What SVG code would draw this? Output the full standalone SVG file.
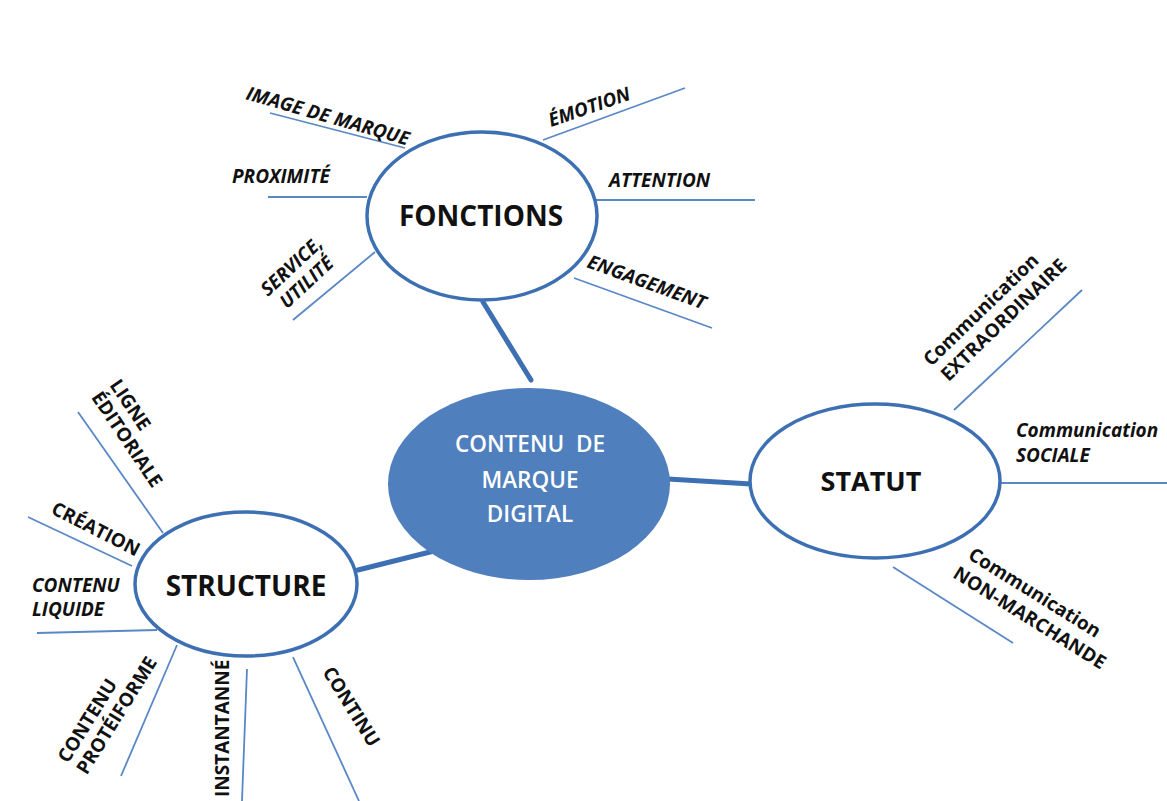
<svg xmlns="http://www.w3.org/2000/svg" width="1167" height="801" viewBox="0 0 1167 801">
<style>
.bg{fill:#ffffff}
.ring{fill:#ffffff;stroke:#3d70b2;stroke-width:3.5}
.core{fill:#4f7fbd;stroke:none}
.thick{stroke:#3d70b2;stroke-width:5;fill:none;stroke-linecap:round}
.thin{stroke:#5a88c6;stroke-width:1.8;fill:none}
.main{font-family:"Open Sans","Liberation Sans",sans-serif;font-weight:700;fill:#111111;text-anchor:middle}
.coretxt{font-family:"Open Sans","Liberation Sans",sans-serif;font-weight:600;fill:#ffffff;font-size:22.5px;text-anchor:middle}
.lbl{font-family:"Open Sans","Liberation Sans",sans-serif;font-weight:700;font-style:italic;fill:#111111;font-size:19px}
.lbln{font-family:"Open Sans","Liberation Sans",sans-serif;font-weight:700;fill:#111111;font-size:19px}
</style>
<rect class="bg" x="0" y="0" width="1167" height="801"/>
<g id="connectors">
<line class="thick" x1="483" y1="302" x2="531" y2="380"/>
<line class="thick" x1="668" y1="479" x2="751" y2="484"/>
<line class="thick" x1="358" y1="570" x2="434" y2="551"/>
<line class="thin" x1="270" y1="113" x2="405" y2="148"/>
<line class="thin" x1="268" y1="197" x2="367" y2="197"/>
<line class="thin" x1="293" y1="320" x2="375" y2="252"/>
<line class="thin" x1="543" y1="140" x2="685" y2="88"/>
<line class="thin" x1="596" y1="200" x2="755" y2="200"/>
<line class="thin" x1="574" y1="278" x2="712" y2="328"/>
<line class="thin" x1="954" y1="410" x2="1082" y2="290"/>
<line class="thin" x1="1000" y1="483" x2="1167" y2="483"/>
<line class="thin" x1="893" y1="567" x2="1013" y2="643"/>
<line class="thin" x1="78" y1="412" x2="163" y2="533"/>
<line class="thin" x1="28" y1="517" x2="132" y2="566"/>
<line class="thin" x1="37" y1="633" x2="157" y2="630"/>
<line class="thin" x1="177" y1="645" x2="121" y2="776"/>
<line class="thin" x1="247" y1="669" x2="242" y2="801"/>
<line class="thin" x1="293" y1="657" x2="359" y2="801"/>
</g>
<g id="fonctions">
<ellipse class="ring" cx="482" cy="216" rx="115" ry="84"/>
<text class="main" x="481" y="226" font-size="28">FONCTIONS</text>
</g>
<g id="contenu">
<ellipse class="core" cx="529" cy="484" rx="141" ry="96"/>
<text class="coretxt" x="530" y="452" xml:space="preserve">CONTENU  DE</text>
<text class="coretxt" x="530" y="488">MARQUE</text>
<text class="coretxt" x="530" y="522">DIGITAL</text>
</g>
<g id="statut">
<ellipse class="ring" cx="875" cy="481" rx="125" ry="77"/>
<text class="main" x="871" y="491" font-size="27">STATUT</text>
</g>
<g id="structure">
<ellipse class="ring" cx="246" cy="584" rx="111" ry="72"/>
<text class="main" x="246" y="596" font-size="28">STRUCTURE</text>
</g>
<g id="label-image">
<text class="lbl" transform="translate(245,99) rotate(16)">IMAGE DE MARQUE</text>
</g>
<g id="label-proximite">
<text class="lbl" x="232" y="183">PROXIMITÉ</text>
</g>
<g id="label-service">
<text class="lbl" text-anchor="middle" transform="translate(296,271) rotate(-43)"><tspan x="0" y="0">SERVICE,</tspan><tspan x="0" y="22">UTILITÉ</tspan></text>
</g>
<g id="label-emotion">
<text class="lbl" transform="translate(551,127) rotate(-19)">ÉMOTION</text>
</g>
<g id="label-attention">
<text class="lbl" x="609" y="187">ATTENTION</text>
</g>
<g id="label-engagement">
<text class="lbl" transform="translate(586,267) rotate(20)">ENGAGEMENT</text>
</g>
<g id="label-extra">
<text class="lbln" transform="translate(931,367) rotate(-44)"><tspan x="0" y="0">Communication</tspan><tspan x="2" y="23">EXTRAORDINAIRE</tspan></text>
</g>
<g id="label-sociale">
<text class="lbl" x="1016" y="437">Communication</text>
<text class="lbl" x="1016" y="462">SOCIALE</text>
</g>
<g id="label-nonmarch">
<text class="lbln" transform="translate(967,558) rotate(32)"><tspan x="0" y="0">Communication</tspan><tspan x="-3" y="24">NON-MARCHANDE</tspan></text>
</g>
<g id="label-ligne">
<text class="lbln" transform="translate(109,385) rotate(56)"><tspan x="0" y="0">LIGNE</tspan><tspan x="0" y="22">ÉDITORIALE</tspan></text>
</g>
<g id="label-creation">
<text class="lbln" transform="translate(50,513) rotate(27)">CRÉATION</text>
</g>
<g id="label-liquide">
<text class="lbl" x="32" y="592">CONTENU</text>
<text class="lbl" x="32" y="616">LIQUIDE</text>
</g>
<g id="label-proteiforme">
<text class="lbln" transform="translate(68,764) rotate(-58)"><tspan x="0" y="0">CONTENU</tspan><tspan x="0" y="22">PROTÉIFORME</tspan></text>
</g>
<g id="label-instantanne">
<text class="lbln" transform="translate(229,797) rotate(-90)">INSTANTANNÉ</text>
</g>
<g id="label-continu">
<text class="lbln" transform="translate(322,672) rotate(58)">CONTINU</text>
</g>
</svg>
